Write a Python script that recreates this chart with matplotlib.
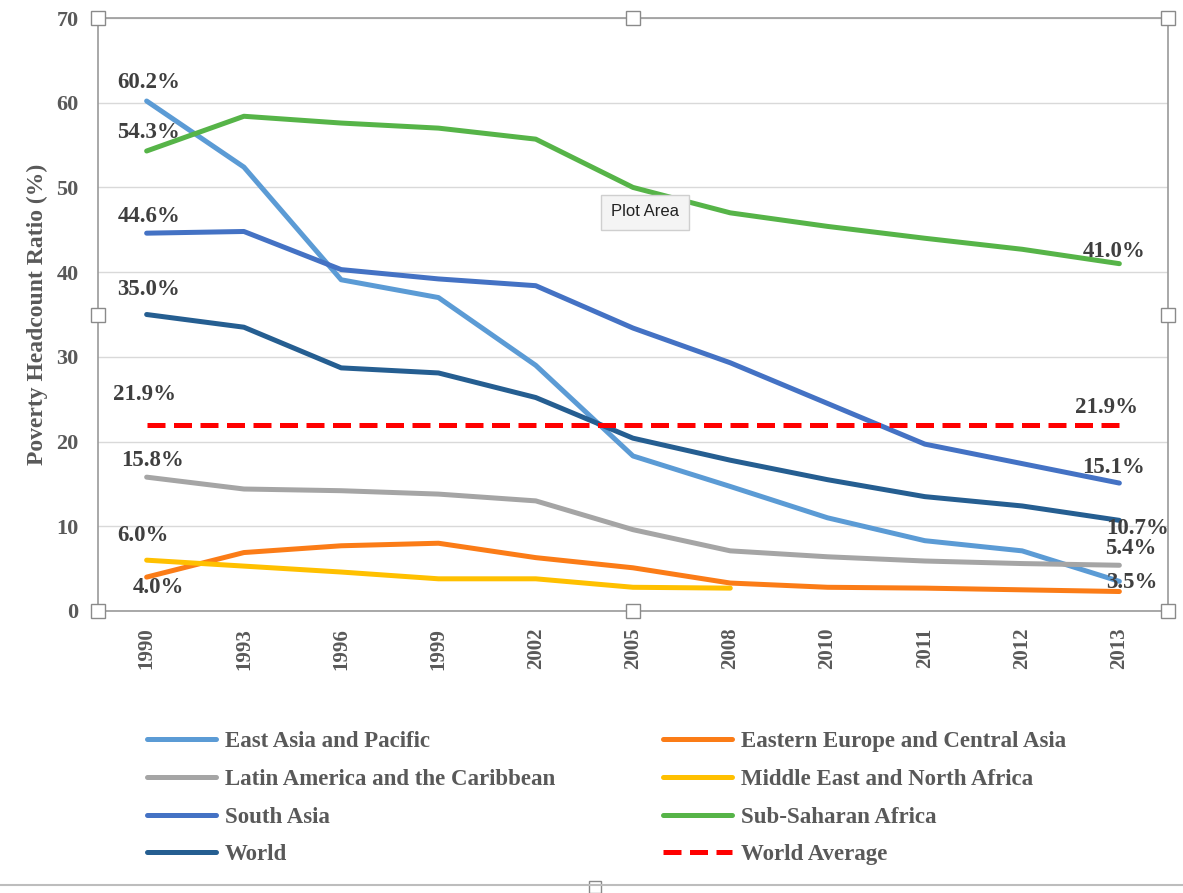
import matplotlib.pyplot as plt
import numpy as np
from matplotlib.lines import Line2D
from matplotlib.patches import Rectangle

# ---- data ----
years = ["1990", "1993", "1996", "1999", "2002", "2005", "2008", "2010", "2011", "2012", "2013"]

east_asia = [60.2, 52.4, 39.1, 37.0, 29.0, 18.3, 14.7, 11.0, 8.3, 7.1, 3.5]
eastern_europe = [4.0, 6.9, 7.7, 8.0, 6.3, 5.1, 3.3, 2.8, 2.7, 2.5, 2.3]
latin_america = [15.8, 14.4, 14.2, 13.8, 13.0, 9.6, 7.1, 6.4, 5.9, 5.6, 5.4]
middle_east = [6.0, 5.3, 4.6, 3.8, 3.8, 2.8, 2.7]
south_asia = [44.6, 44.8, 40.3, 39.2, 38.4, 33.4, 29.3, 24.5, 19.7, 17.4, 15.1]
sub_saharan = [54.3, 58.4, 57.6, 57.0, 55.7, 50.0, 47.0, 45.4, 44.0, 42.7, 41.0]
world = [35.0, 33.5, 28.7, 28.1, 25.2, 20.4, 17.8, 15.5, 13.5, 12.4, 10.7]
world_average = [21.9] * len(years)

series = [
    ("East Asia and Pacific", east_asia, "#5B9BD5", "-"),
    ("Eastern Europe and Central Asia", eastern_europe, "#FB7C17", "-"),
    ("Latin America and the Caribbean", latin_america, "#A5A5A5", "-"),
    ("Middle East and North Africa", middle_east, "#FFC000", "-"),
    ("South Asia", south_asia, "#4472C4", "-"),
    ("Sub-Saharan Africa", sub_saharan, "#56B448", "-"),
    ("World", world, "#255E91", "-"),
    ("World Average", world_average, "#FF0000", "--"),
]

# data labels: (series, point index, x offset px, y offset px)
label_spots = [
    ("East Asia and Pacific", 0, 2, 19),
    ("Sub-Saharan Africa", 0, 2, 19),
    ("South Asia", 0, 2, 17),
    ("World", 0, 2, 25),
    ("World Average", 0, -2, 31),
    ("Latin America and the Caribbean", 0, 6, 17),
    ("Middle East and North Africa", 0, -4, 25),
    ("Eastern Europe and Central Asia", 0, 12, -10),
    ("Sub-Saharan Africa", -1, -5, 12),
    ("World Average", -1, -13, 18),
    ("South Asia", -1, -6, 16),
    ("World", -1, 18, -8),
    ("Latin America and the Caribbean", -1, 11, 17),
    ("East Asia and Pacific", -1, 12, -1),
]

plt.rcParams["font.family"] = ["Liberation Serif", "DejaVu Serif"]
plt.rcParams["font.weight"] = "bold"
TEXT = "#595959"
W, H = 1183, 893

fig = plt.figure(figsize=(W / 100, H / 100), dpi=100)
ax = fig.add_axes([98 / W, 1 - 611 / H, 1070 / W, 593 / H])

x = np.arange(len(years))
handles = {}
for name, values, color, style in series:
    if style == "--":
        (line,) = ax.plot(x[: len(values)], values, color=color, linewidth=3.6,
                          linestyle=(0, (3.6, 1.7)), dash_capstyle="butt", label=name, zorder=3)
    else:
        (line,) = ax.plot(x[: len(values)], values, color=color, linewidth=3.6,
                          solid_capstyle="round", solid_joinstyle="round", label=name, zorder=3)
    handles[name] = line

lookup = {name: values for name, values, _, _ in series}
for name, idx, dx, dy in label_spots:
    values = lookup[name]
    xi = x[: len(values)][idx]
    ax.annotate(f"{values[idx]:.1f}%", (xi, values[idx]), xytext=(dx, dy),
                textcoords="offset pixels", ha="center", va="center",
                fontsize=16.5, fontweight="bold", color="#3F3F3F", zorder=5)

ax.set_xlim(-0.5, len(years) - 0.5)
ax.set_ylim(0, 70)
ax.set_yticks(np.arange(0, 71, 10))
ax.set_xticks(x)
ax.set_xticklabels(years, rotation=90, fontsize=15, color=TEXT)
ax.tick_params(axis="y", length=0, pad=14, labelsize=16, labelcolor=TEXT)
ax.tick_params(axis="x", length=0, pad=12)
ax.grid(axis="y", color="#D9D9D9", linewidth=1.0)
ax.set_axisbelow(True)
for side in ["left", "right", "top", "bottom"]:
    ax.spines[side].set_color("#9A9A9A")
    ax.spines[side].set_linewidth(1.2)
ax.set_ylabel("Poverty Headcount Ratio (%)", fontsize=17, fontweight="bold",
              color=TEXT, labelpad=6)

# selection handles around the plot area
for hx in [0, 0.5, 1]:
    for hy in [0, 0.5, 1]:
        if hx == 0.5 and hy == 0.5:
            continue
        ax.add_patch(Rectangle((hx - 7 / 1070, hy - 7 / 593), 14 / 1070, 14 / 593,
                               transform=ax.transAxes, facecolor="white",
                               edgecolor="#8A8A8A", linewidth=1.0, clip_on=False, zorder=6))

# legend in two columns
col1 = ["East Asia and Pacific", "Latin America and the Caribbean", "South Asia", "World"]
col2 = ["Eastern Europe and Central Asia", "Middle East and North Africa",
        "Sub-Saharan Africa", "World Average"]
legend_kw = dict(loc="upper left", frameon=False, fontsize=16.5, handlelength=3.0,
                 handletextpad=0.4, labelspacing=0.73, borderpad=0, borderaxespad=0,
                 labelcolor=TEXT, bbox_transform=fig.transFigure)
leg1 = ax.legend([handles[n] for n in col1], col1, bbox_to_anchor=(147 / W, 1 - 731 / H), **legend_kw)
ax.add_artist(leg1)
ax.legend([handles[n] for n in col2], col2, bbox_to_anchor=(663 / W, 1 - 731 / H), **legend_kw)

# chart area border and tooltip
fig.add_artist(Line2D([0, 1], [1 - 885 / H, 1 - 885 / H], transform=fig.transFigure,
                      color="#BDBDBD", linewidth=1.5))
fig.add_artist(Rectangle((589 / W, 1 - 893 / H), 12 / W, 12 / H, transform=fig.transFigure,
                         facecolor="white", edgecolor="#8A8A8A", linewidth=1.0))
fig.text(645 / W, 1 - 212 / H, "Plot Area", ha="center", va="center", fontsize=12,
         fontweight="normal", family="Liberation Sans", color="#222222",
         bbox=dict(boxstyle="square,pad=0.6", facecolor="#F4F4F4", edgecolor="#CFCFCF"))

fig.savefig("out.png", dpi=100)
